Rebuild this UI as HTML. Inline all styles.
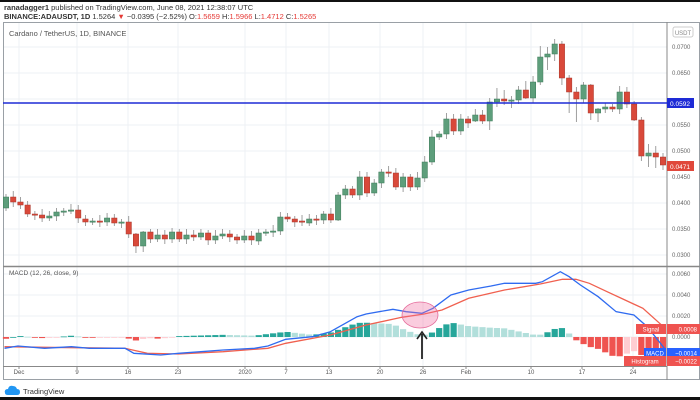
<!DOCTYPE html>
<html><head><meta charset="utf-8"><style>
html,body{margin:0;padding:0;background:#fff;width:700px;height:400px;overflow:hidden}
svg{display:block;font-family:"Liberation Sans",sans-serif}
</style></head><body>
<svg id="s" width="700" height="400" viewBox="0 0 700 400" xmlns="http://www.w3.org/2000/svg">
<rect x="0" y="0" width="700" height="400" fill="#fff"/>
<rect x="0" y="0" width="700" height="2" fill="#111"/>
<rect x="0" y="397" width="700" height="3" fill="#111"/>
<text x="4" y="10" font-size="7.5" fill="#333"><tspan font-weight="bold">ranadagger1</tspan> published on TradingView.com, June 08, 2021 12:38:07 UTC</text>
<text x="4" y="19" font-size="7.5" fill="#333"><tspan font-weight="bold">BINANCE:ADAUSDT, 1D</tspan> 1.5264 <tspan fill="#e53935">▼</tspan> −0.0395 (−2.52%) O:<tspan fill="#e53935">1.5659</tspan> H:<tspan fill="#e53935">1.5966</tspan> L:<tspan fill="#e53935">1.4712</tspan> C:<tspan fill="#e53935">1.5265</tspan></text>
<g id="grid"></g>
<rect x="3.5" y="22.5" width="696" height="357" fill="none" stroke="#9aa0a6" stroke-width="1"/>
<line x1="667" y1="22" x2="667" y2="380" stroke="#888" stroke-width="1"/>
<line x1="3" y1="266.5" x2="700" y2="266.5" stroke="#888" stroke-width="1.5"/>
<line x1="3" y1="366.5" x2="667" y2="366.5" stroke="#888" stroke-width="1"/>
<text x="9" y="36" font-size="7.5" fill="#555">Cardano / TetherUS, 1D, BINANCE</text>
<text x="9" y="275" font-size="6.5" fill="#555">MACD (12, 26, close, 9)</text>
<rect x="673" y="27" width="20" height="10" rx="2" fill="#fff" stroke="#ccc"/>
<text x="683" y="35" font-size="6" fill="#888" text-anchor="middle">USDT</text>
<g id="cand"></g>
<g id="macd"></g>
<line x1="3" y1="103" x2="667" y2="103" stroke="#1e2bd6" stroke-width="1.5"/>
<rect x="667" y="98" width="27" height="10" fill="#1e2bd6"/>
<text x="680" y="106" font-size="6.5" fill="#fff" text-anchor="middle">0.0592</text>
<rect x="667" y="161" width="27" height="10" fill="#e0483b"/>
<text x="680" y="169" font-size="6.5" fill="#fff" text-anchor="middle">0.0471</text>
<g id="lab"></g>
<g transform="translate(4,384)">
<path d="M1 9 Q0 5 4 5 Q5 1 9 2 Q12 2 13 5 Q16 5 16 8 Q16 11 13 11 L4 11 Q1 11 1 9Z" fill="#2196f3"/>
<text x="19" y="10" font-size="7.5" fill="#333">TradingView</text>
</g>
</svg>
<script>
const NS="http://www.w3.org/2000/svg";
function el(p,t,a,txt){const e=document.createElementNS(NS,t);for(const k in a)e.setAttribute(k,a[k]);if(txt!==undefined)e.textContent=txt;document.getElementById(p).appendChild(e);return e;}
const dates=[["Dec",19],["9",77],["16",128],["23",178],["2020",245],["7",286],["13",329],["20",380],["26",423],["Feb",466],["10",531],["17",582],["24",633]];
dates.forEach(d=>{el("grid","line",{x1:d[1],y1:23,x2:d[1],y2:366,stroke:"#eef0f4","stroke-width":1});
el("lab","text",{x:d[1],y:374,"font-size":6,fill:"#555","text-anchor":"middle"},d[0]);
el("lab","line",{x1:d[1],y1:366,x2:d[1],y2:369,stroke:"#888"});});
const prices=[["0.0700",47],["0.0650",73],["0.0550",125],["0.0500",151],["0.0450",177],["0.0400",203],["0.0350",229],["0.0300",255]];
prices.forEach(p=>{el("grid","line",{x1:4,y1:p[1],x2:667,y2:p[1],stroke:"#eef0f4"});
el("lab","text",{x:672,y:p[1]+2,"font-size":6,fill:"#666"},p[0]);});
el("grid","line",{x1:4,y1:99,x2:667,y2:99,stroke:"#eef0f4"});
[["0.0060",274],["0.0040",295],["0.0020",316],["0.0000",337]].forEach(p=>{el("grid","line",{x1:4,y1:p[1],x2:667,y2:p[1],stroke:"#eef0f4"});
el("lab","text",{x:672,y:p[1]+2,"font-size":6,fill:"#666"},p[0]);});
const C=[[208,197],[197,202],[202,205],[205,214],[214,215],[215,218],[218,216],[216,212],[212,211],[211,210],[210,218],[219,222],[222,221],[221,222],[222,218],[218,223],[223,222],[222,234],[234,246],[246,232],[232,239],[239,235],[235,239],[239,232],[232,239],[239,235],[235,237],[237,233],[233,240],[240,236],[236,234],[234,237],[237,240],[240,236],[236,240],[241,233],[233,232],[232,231],[231,217],[217,219],[219,222],[221,222],[223,219],[219,220],[220,214],[214,220],[220,195],[195,189],[189,195],[195,177],[177,193],[193,183],[183,172],
[172,173],[173,187],[187,177],[177,187],[187,178],[178,162],[162,137],[137,134],[134,119],[119,131],[131,119],[119,123],[121,115],[115,121],[121,102],[102,99],[99,101],[101,100],[100,90],[90,98],[98,82],[82,57],[57,54],[54,44],[44,78],[78,92],[92,99],[99,85],[85,113],[113,109],[109,107],[107,109],[109,92],[92,104],[104,120],[120,156],[156,153],[153,157],[157,165]];
const N=C.length, x0=6, dx=(663-x0)/(N-1);
const extra={18:[0,6],19:[0,5],46:[2,0],58:[5,3],59:[6,2],63:[4,3],65:[5,0],67:[3,8],68:[10,4],69:[8,3],70:[3,6],72:[8,0],74:[10,2],75:[6,12],76:[4,6],77:[2,6],78:[2,20],79:[4,22],81:[0,6],82:[0,8],87:[2,0],89:[8,10],90:[6,10]};
C.forEach((c,i)=>{const x=x0+i*dx;const up=c[1]<c[0];const top=Math.min(...c),bot=Math.max(...c);
const e=extra[i]||[2+(i*7%4),2+(i*5%3)];
el("cand","line",{x1:x,y1:top-e[0]-1,x2:x,y2:bot+e[1]+1,stroke:"#888","stroke-width":0.8});
el("cand","rect",{x:x-2.7,y:top,width:5.4,height:Math.max(bot-top,1.2),fill:up?"#5d9e7b":"#d9493a",stroke:up?"#3d7a59":"#a8352a","stroke-width":0.5});});
const S=(a)=>a.map(p=>[p[0]/2.24,260+p[1]/3]);
const M=S([[10,265],[40,258],[100,265],[160,260],[200,265],[280,265],[300,280],[360,285],[400,280],[450,275],[500,270],[570,265],[600,258],[640,238],[700,230],[740,215],[760,200],[800,170],[820,162],[880,148],[910,155],[945,160],[970,145],[1010,105],[1050,90],[1100,78],[1130,70],[1200,70],[1215,65],[1255,35],[1275,50],[1300,75],[1340,110],[1380,155],[1420,165],[1450,200],[1490,268]]);
const G=S([[10,260],[100,262],[280,265],[330,280],[400,282],[500,275],[600,265],[640,250],[740,225],[820,195],[900,172],[950,162],[990,150],[1050,115],[1130,90],[1210,72],[1260,58],[1290,58],[1320,70],[1360,95],[1400,120],[1440,145],[1490,205]]);
function interp(a,x){if(x<=a[0][0])return a[0][1];for(let i=1;i<a.length;i++){if(x<=a[i][0]){const t=(x-a[i-1][0])/(a[i][0]-a[i-1][0]);return a[i-1][1]+t*(a[i][1]-a[i-1][1]);}}return a[a.length-1][1];}
let prev=0;
for(let i=0;i<N;i++){const x=x0+i*dx;let h=(interp(G,x)-interp(M,x))*1.3;
let col;if(h>=0)col=h>=prev?"#26a69a":"#b2dfdb";else col=h<=prev?"#ef5350":"#ffcdd2";
prev=h;const y=h>=0?337-h:337;el("macd","rect",{x:x-3.1,y:y,width:6.2,height:Math.max(Math.abs(h),0.8),fill:col});}
const pts=a=>a.map(p=>p[0].toFixed(1)+","+p[1].toFixed(1)).join(" ");
el("macd","polyline",{points:pts(G),fill:"none",stroke:"#f0604f","stroke-width":1.3});
el("macd","polyline",{points:pts(M),fill:"none",stroke:"#2f6bf0","stroke-width":1.3});
el("macd","ellipse",{cx:420,cy:315,rx:18,ry:13,fill:"rgba(240,110,160,0.35)",stroke:"#e56a9a","stroke-width":0.8});
el("macd","line",{x1:422,y1:359,x2:422,y2:334,stroke:"#222","stroke-width":1.8});
el("macd","path",{d:"M417 339 L422 332 L427 339",fill:"none",stroke:"#222","stroke-width":1.6});
function tag(name,val,y,col){el("lab","rect",{x:667,y:y-5,width:33,height:10,fill:col});el("lab","text",{x:697,y:y+2.5,"font-size":6,fill:"#fff","text-anchor":"end"},val);
const w=name.length*4+6;el("lab","rect",{x:666-w,y:y-5,width:w,height:10,fill:col});el("lab","text",{x:666-w/2,y:y+2.5,"font-size":6,fill:"#fff","text-anchor":"middle"},name);}
tag("Signal","0.0008",329,"#ef5350");tag("MACD","−0.0014",353,"#2962ff");tag("Histogram","−0.0022",361,"#ef5350");
</script>
</body></html>
